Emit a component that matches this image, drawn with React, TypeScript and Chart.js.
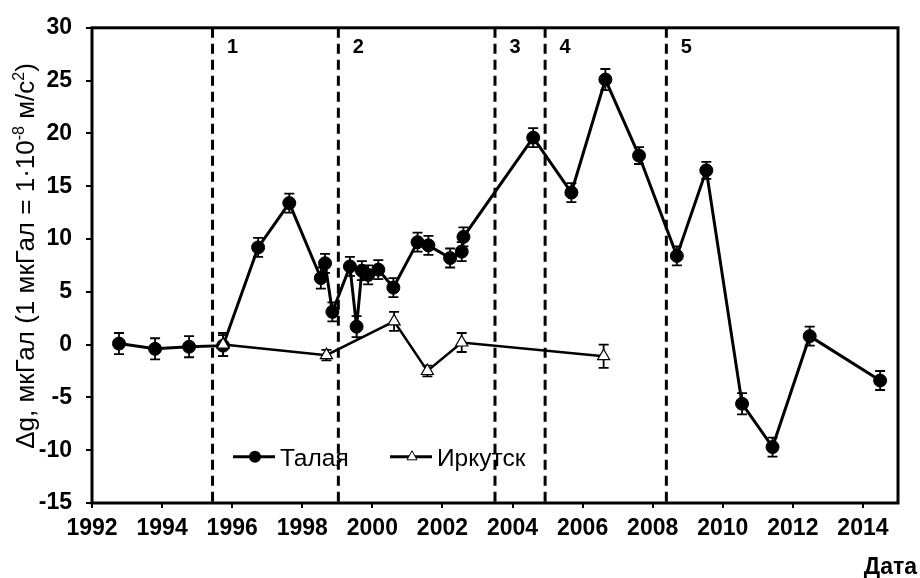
import React, { useEffect, useRef } from 'react';
import { Chart, registerables } from 'chart.js';
Chart.register(...registerables);

// ---- data ----
const talayaYears = [1992.77, 1993.8, 1994.77, 1995.74, 1996.74, 1997.63, 1998.53, 1998.65, 1998.86, 1999.36, 1999.55, 1999.7, 1999.88, 2000.17, 2000.6, 2001.29, 2001.6, 2002.22, 2002.55, 2002.6, 2004.59, 2005.68, 2006.65, 2007.61, 2008.69, 2009.53, 2010.55, 2011.42, 2012.48, 2014.49];
const talayaValues = [0.1, -0.4, -0.2, -0.1, 9.2, 13.4, 6.3, 7.7, 3.1, 7.4, 1.7, 7.0, 6.6, 7.1, 5.4, 9.7, 9.4, 8.2, 8.8, 10.2, 19.6, 14.4, 25.1, 17.9, 8.4, 16.5, -5.6, -9.7, 0.8, -3.4];
const talayaErrors = [1.0, 1.0, 1.0, 1.0, 0.9, 0.9, 1.0, 0.9, 0.9, 0.9, 1.0, 0.9, 0.9, 0.9, 0.9, 0.9, 0.9, 0.9, 0.9, 0.9, 0.9, 0.9, 1.0, 0.8, 0.9, 0.8, 1.0, 0.9, 0.9, 0.9];

const irkutskYears = [1995.74, 1998.69, 2000.62, 2001.57, 2002.55, 2006.6];
const irkutskValues = [0.0, -1.0, 2.2, -2.5, 0.2, -1.1];
const irkutskErrors = [1.1, 0.5, 0.9, 0.5, 0.9, 1.1];

const periodBoundaries = [1995.44, 1999.03, 2003.5, 2004.93, 2008.39];
const periodLabels = ['1', '2', '3', '4', '5'];

const xTickValues = [1992, 1994, 1996, 1998, 2000, 2002, 2004, 2006, 2008, 2010, 2012, 2014];
const xMin = 1992;
const xMax = 2015;
const yMin = -15;
const yMax = 30;
const yStep = 5;

const seriesNames = ['Талая', 'Иркутск'];
const xTitle = 'Дата';

const FONT = '"Liberation Sans", Arial, sans-serif';

const errors: Record<string, number[]> = {
  [seriesNames[0]]: talayaErrors,
  [seriesNames[1]]: irkutskErrors,
};

const overlayPlugin = {
  id: 'overlay',
  beforeDatasetsDraw(chart: any) {
    const { ctx, chartArea, scales } = chart;
    const xs = scales.x;
    const ys = scales.y;
    ctx.save();

    // frame
    ctx.strokeStyle = '#000';
    ctx.lineWidth = 3;
    ctx.strokeRect(chartArea.left, chartArea.top, chartArea.right - chartArea.left, chartArea.bottom - chartArea.top);

    // legend
    const ly = chartArea.top + 429;
    const l1 = chartArea.left + 141;
    const l2 = chartArea.left + 298;
    ctx.fillStyle = '#000';
    ctx.lineWidth = 3;
    ctx.beginPath();
    ctx.moveTo(l1, ly);
    ctx.lineTo(l1 + 42, ly);
    ctx.stroke();
    ctx.beginPath();
    ctx.arc(l1 + 22, ly, 6, 0, Math.PI * 2);
    ctx.fill();
    ctx.beginPath();
    ctx.moveTo(l2, ly);
    ctx.lineTo(l2 + 42, ly);
    ctx.stroke();
    ctx.fillStyle = '#fff';
    ctx.lineWidth = 1;
    ctx.beginPath();
    ctx.moveTo(l2 + 22, ly - 6);
    ctx.lineTo(l2 + 27, ly + 3);
    ctx.lineTo(l2 + 17, ly + 3);
    ctx.closePath();
    ctx.fill();
    ctx.stroke();
    ctx.fillStyle = '#000';
    ctx.font = `24.5px ${FONT}`;
    ctx.textAlign = 'left';
    ctx.textBaseline = 'alphabetic';
    ctx.fillText(seriesNames[0], l1 + 47, ly + 9);
    ctx.fillText(seriesNames[1], l2 + 47, ly + 9);

    // period boundaries
    ctx.strokeStyle = '#000';
    ctx.lineWidth = 3;
    ctx.setLineDash([10, 6]);
    ctx.font = `bold 20px ${FONT}`;
    ctx.textAlign = 'center';
    periodBoundaries.forEach((yr, i) => {
      const px = xs.getPixelForValue(yr);
      ctx.beginPath();
      ctx.moveTo(px, chartArea.top);
      ctx.lineTo(px, chartArea.bottom);
      ctx.stroke();
      ctx.fillText(periodLabels[i], px + 20, chartArea.top + 25);
    });
    ctx.setLineDash([]);

    // error bars
    ctx.lineWidth = 1.8;
    chart.data.datasets.forEach((ds: any, di: number) => {
      const meta = chart.getDatasetMeta(di);
      const errs = errors[ds.label];
      meta.data.forEach((el: any, i: number) => {
        const v = ds.data[i].y;
        const e = errs[i];
        const x = el.x;
        const yt = ys.getPixelForValue(v + e);
        const yb = ys.getPixelForValue(v - e);
        ctx.beginPath();
        ctx.moveTo(x, yt);
        ctx.lineTo(x, yb);
        ctx.moveTo(x - 5, yt);
        ctx.lineTo(x + 5, yt);
        ctx.moveTo(x - 5, yb);
        ctx.lineTo(x + 5, yb);
        ctx.stroke();
      });
    });
    ctx.restore();
  },
  afterDraw(chart: any) {
    const { ctx, chartArea } = chart;
    ctx.save();
    ctx.fillStyle = '#000';
    // y title with superscripts
    ctx.translate(27, chartArea.top + 421);
    ctx.rotate(-Math.PI / 2);
    ctx.textBaseline = 'middle';
    ctx.textAlign = 'left';
    const big = `26px ${FONT}`;
    const small = `16px ${FONT}`;
    const parts: [string, boolean][] = [
      ['Δg, мкГал (1 мкГал = 1·10', false],
      ['-8', true],
      [' м/с', false],
      ['2', true],
      [')', false],
    ];
    let x = 0;
    parts.forEach(([t, sup]) => {
      ctx.font = sup ? small : big;
      ctx.fillText(t, x, sup ? -7 : 0);
      x += ctx.measureText(t).width;
    });
    ctx.restore();

    ctx.save();
    ctx.fillStyle = '#000';
    ctx.font = `bold 23px ${FONT}`;
    ctx.textAlign = 'right';
    ctx.textBaseline = 'alphabetic';
    ctx.fillText(xTitle, 917, 574);
    ctx.restore();
  },
};

export default function App() {
  const ref = useRef<HTMLCanvasElement | null>(null);
  useEffect(() => {
    if (!ref.current) return;
    const chart = new Chart(ref.current, {
      type: 'line',
      data: {
        datasets: [
          {
            label: seriesNames[1],
            data: irkutskYears.map((yr, i) => ({ x: yr, y: irkutskValues[i] })),
            borderColor: '#000',
            borderWidth: 2.5,
            pointStyle: 'triangle',
            pointRadius: 7,
            pointBackgroundColor: '#fff',
            pointBorderColor: '#000',
            pointBorderWidth: 1.2,
            tension: 0,
            order: 0,
          },
          {
            label: seriesNames[0],
            data: talayaYears.map((yr, i) => ({ x: yr, y: talayaValues[i] })),
            borderColor: '#000',
            borderWidth: 3,
            pointStyle: 'circle',
            pointRadius: 6.5,
            pointBackgroundColor: '#000',
            pointBorderColor: '#000',
            pointBorderWidth: 1,
            tension: 0,
            order: 1,
          },
        ],
      },
      options: {
        animation: false,
        responsive: false,
        maintainAspectRatio: false,
        layout: { padding: { top: 23, right: 22, left: 0, bottom: 0 } },
        plugins: { legend: { display: false }, tooltip: { enabled: false } },
        scales: {
          x: {
            type: 'linear',
            min: xMin,
            max: xMax,
            afterBuildTicks: (scale: any) => {
              scale.ticks = xTickValues.map((v) => ({ value: v }));
            },
            afterFit: (scale: any) => {
              scale.height = 75;
            },
            grid: { drawOnChartArea: false, drawTicks: true, tickLength: 5, color: '#000', lineWidth: 2 },
            border: { display: false },
            ticks: {
              color: '#000',
              font: { family: FONT, size: 23, weight: 'bold' },
              padding: 7,
              maxRotation: 0,
              autoSkip: false,
              callback: (v: any) => String(v),
            },
          },
          y: {
            type: 'linear',
            min: yMin,
            max: yMax,
            afterFit: (scale: any) => {
              scale.width = 92;
            },
            grid: { drawOnChartArea: false, drawTicks: true, tickLength: 6, color: '#000', lineWidth: 2 },
            border: { display: false },
            ticks: {
              stepSize: yStep,
              color: '#000',
              font: { family: FONT, size: 23, weight: 'bold' },
              padding: 14,
            },
          },
        },
      },
      plugins: [overlayPlugin],
    } as any);
    return () => chart.destroy();
  }, []);
  return (
    <div style={{ position: 'fixed', left: 0, top: 0, width: 920, height: 578, background: '#fff' }}>
      <canvas ref={ref} width={920} height={578} style={{ display: 'block' }} />
    </div>
  );
}
